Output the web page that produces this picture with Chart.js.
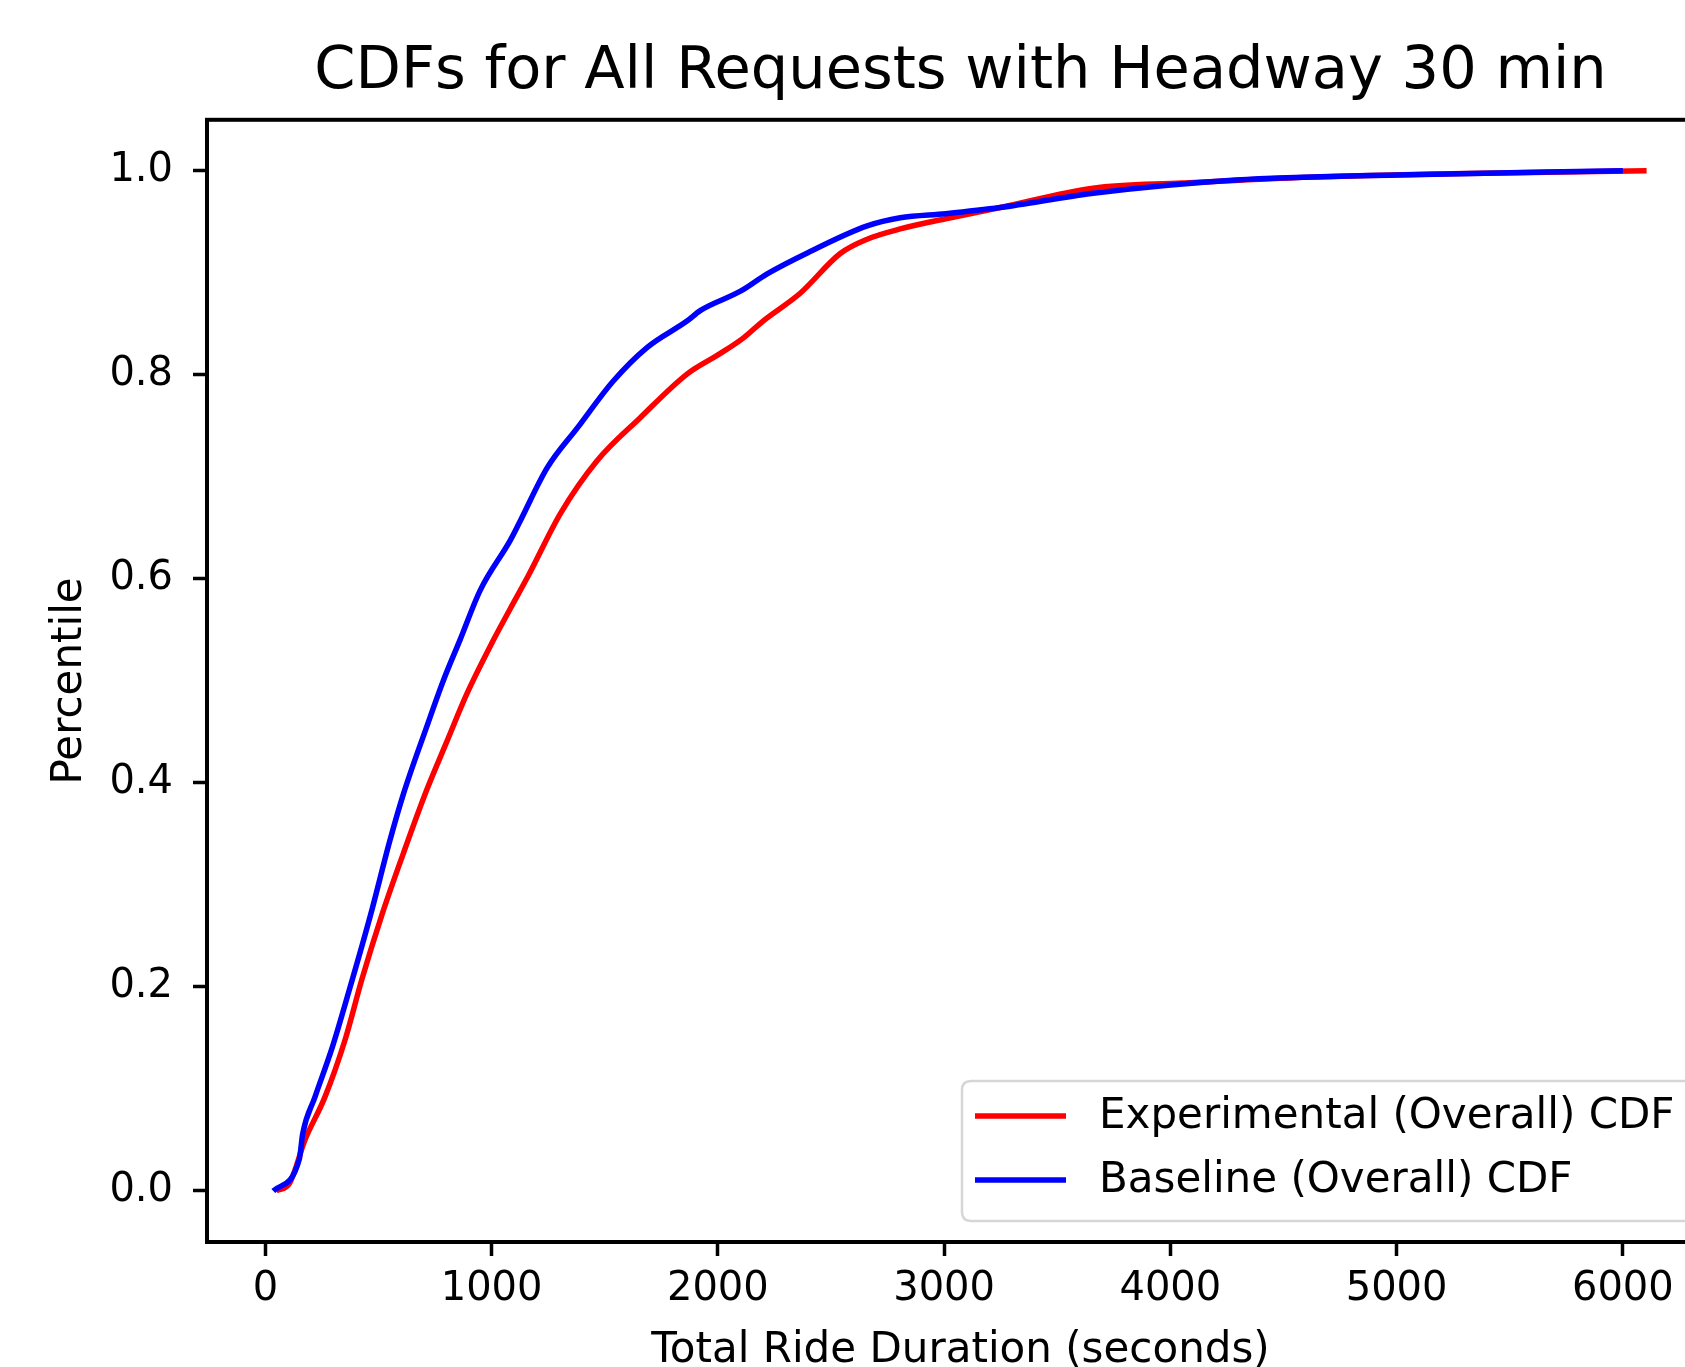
<!DOCTYPE html>
<html>
<head>
<meta charset="utf-8">
<script src="https://cdn.jsdelivr.net/npm/chart.js@4.4.0/dist/chart.umd.min.js"></script>
<style>
html, body { margin:0; padding:0; overflow:hidden; background:#ffffff; width:1685px; height:1367px; }
#wrap { position:absolute; left:0; top:0; width:1800px; height:1400px; }
</style>
</head>
<body>
<div id="wrap"><canvas id="c" width="1800" height="1400"></canvas></div>
<script>
// ---- data ----
const titleText = "CDFs for All Requests with Headway 30 min";
const xTitle = "Total Ride Duration (seconds)";
const yTitle = "Percentile";
const seriesNames = ["Experimental (Overall) CDF", "Baseline (Overall) CDF"];
const seriesColors = ["#ff0000", "#0000ff"];

const expX = [48, 108, 175, 263, 352, 426, 514, 610, 713, 801, 890, 1008, 1083, 1162, 1304, 1467, 1657, 1865, 2011, 2112, 2201, 2364, 2541, 2660, 2806, 3007, 3248, 3659, 4052, 4527, 5240, 6105];
const expY = [0, 0.008, 0.05, 0.092, 0.148, 0.207, 0.27, 0.331, 0.393, 0.44, 0.487, 0.54, 0.571, 0.603, 0.664, 0.716, 0.758, 0.801, 0.821, 0.836, 0.853, 0.88, 0.919, 0.933, 0.943, 0.953, 0.964, 0.983, 0.988, 0.993, 0.997, 1.0];

const baseX = [35, 150, 165, 219, 296, 367, 463, 551, 610, 713, 786, 860, 950, 1083, 1127, 1246, 1379, 1538, 1688, 1865, 1922, 2100, 2218, 2400, 2660, 2806, 3007, 3248, 3659, 4290, 5002, 6000];
const baseY = [0, 0.031, 0.056, 0.092, 0.141, 0.194, 0.269, 0.344, 0.389, 0.455, 0.5, 0.54, 0.589, 0.638, 0.657, 0.709, 0.748, 0.794, 0.827, 0.853, 0.863, 0.882, 0.899, 0.92, 0.946, 0.954, 0.958, 0.964, 0.978, 0.991, 0.996, 1.0];

const xTicks = [0, 1000, 2000, 3000, 4000, 5000, 6000];
const xTickLabels = ["0", "1000", "2000", "3000", "4000", "5000", "6000"];
const yTicks = [0, 0.2, 0.4, 0.6, 0.8, 1.0];
const yTickLabels = ["0.0", "0.2", "0.4", "0.6", "0.8", "1.0"];
const xRange = [-258, 6403];
const yRange = [-0.05, 1.05];

// ---- chart ----
const FONT = "'DejaVu Sans', 'Liberation Sans', sans-serif";
Chart.defaults.font.family = FONT;
Chart.defaults.color = '#000';

function pts(xs, ys) { return xs.map((x, i) => ({ x: x, y: ys[i] })); }

const framePlugin = {
  id: 'frameAndLegend',
  afterDraw(chart) {
    const ctx = chart.ctx;
    const a = chart.chartArea;
    ctx.save();
    // axes frame
    ctx.strokeStyle = '#000';
    ctx.lineWidth = 4;
    ctx.strokeRect(a.left, a.top, a.right - a.left, a.bottom - a.top);

    // legend box (lower right, inside axes)
    const right = a.right - 10;
    const bottom = a.bottom - 21;
    const h = 140, w = 742, r = 9;
    const left = right - w, top = bottom - h;
    ctx.beginPath();
    ctx.moveTo(left + r, top);
    ctx.lineTo(right - r, top);
    ctx.quadraticCurveTo(right, top, right, top + r);
    ctx.lineTo(right, bottom - r);
    ctx.quadraticCurveTo(right, bottom, right - r, bottom);
    ctx.lineTo(left + r, bottom);
    ctx.quadraticCurveTo(left, bottom, left, bottom - r);
    ctx.lineTo(left, top + r);
    ctx.quadraticCurveTo(left, top, left + r, top);
    ctx.closePath();
    ctx.fillStyle = 'rgba(255,255,255,0.8)';
    ctx.fill();
    ctx.strokeStyle = 'rgba(204,204,204,0.8)';
    ctx.lineWidth = 2.5;
    ctx.stroke();

    const rowY = [top + 35, top + 99];
    ctx.font = '42px ' + FONT;
    ctx.textBaseline = 'middle';
    ctx.textAlign = 'left';
    chart.data.datasets.forEach((ds, i) => {
      ctx.strokeStyle = ds.borderColor;
      ctx.lineWidth = 5.5;
      ctx.lineCap = 'butt';
      ctx.beginPath();
      ctx.moveTo(left + 13, rowY[i]);
      ctx.lineTo(left + 104, rowY[i]);
      ctx.stroke();
      ctx.fillStyle = '#000';
      ctx.fillText(ds.label, left + 137, rowY[i] + 1);
    });
    ctx.restore();
  }
};

new Chart(document.getElementById('c'), {
  type: 'line',
  data: {
    datasets: [
      { label: seriesNames[0], data: pts(expX, expY), borderColor: seriesColors[0], backgroundColor: seriesColors[0],
        borderWidth: 5.5, pointRadius: 0, fill: false, cubicInterpolationMode: 'monotone', order: 2 },
      { label: seriesNames[1], data: pts(baseX, baseY), borderColor: seriesColors[1], backgroundColor: seriesColors[1],
        borderWidth: 5.5, pointRadius: 0, fill: false, cubicInterpolationMode: 'monotone', order: 1 }
    ]
  },
  options: {
    responsive: false,
    animation: false,
    devicePixelRatio: 1,
    layout: { padding: { left: 0, right: 86, top: 0, bottom: 0 } },
    plugins: {
      legend: { display: false },
      tooltip: { enabled: false },
      title: {
        display: true, text: titleText, fullSize: false, color: '#000',
        font: { size: 59, weight: 'normal', family: FONT, lineHeight: 1.2 },
        padding: { top: 37, bottom: 12 }
      }
    },
    scales: {
      x: {
        type: 'linear', min: xRange[0], max: xRange[1],
        afterBuildTicks: s => { s.ticks = xTicks.map(v => ({ value: v })); },
        afterFit: s => { s.height = 158; },
        ticks: { font: { size: 40 }, color: '#000', padding: 10, maxRotation: 0, autoSkip: false,
                 callback: (v, i) => xTickLabels[i] },
        grid: { drawOnChartArea: false, drawTicks: true, tickLength: 14, tickWidth: 3.5, tickColor: '#000', color: '#000' },
        border: { display: false },
        title: { display: true, text: xTitle, color: '#000', font: { size: 42, lineHeight: 1.2 }, padding: { top: 0, bottom: 24 } }
      },
      y: {
        type: 'linear', min: yRange[0], max: yRange[1],
        afterBuildTicks: s => { s.ticks = yTicks.map(v => ({ value: v })); },
        afterFit: s => { s.width = 207; },
        ticks: { font: { size: 40 }, color: '#000', padding: 20, autoSkip: false,
                 callback: (v, i) => yTickLabels[i] },
        grid: { drawOnChartArea: false, drawTicks: true, tickLength: 14, tickWidth: 3.5, tickColor: '#000', color: '#000' },
        border: { display: false },
        title: { display: true, text: yTitle, color: '#000', font: { size: 42, lineHeight: 1.2 }, padding: { top: 45, bottom: 0 } }
      }
    }
  },
  plugins: [framePlugin]
});
</script>
</body>
</html>
